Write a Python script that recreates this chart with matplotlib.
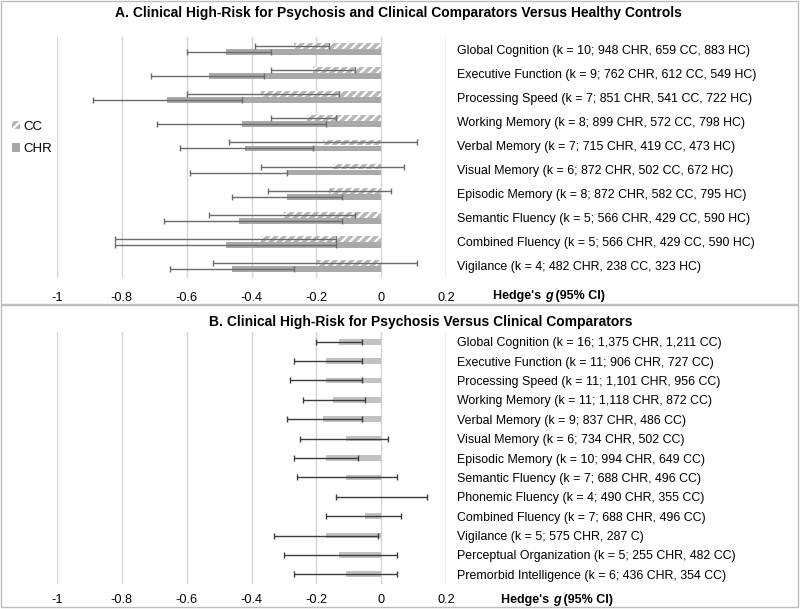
import numpy as np
import matplotlib
matplotlib.use("Agg")
from matplotlib import pyplot as plt
from matplotlib.patches import Rectangle, Patch
from matplotlib.ticker import FuncFormatter

plt.rcParams["font.family"] = ["Liberation Sans", "DejaVu Sans"]
plt.rcParams["axes.unicode_minus"] = False
plt.rcParams["hatch.linewidth"] = 1.6
plt.rcParams["hatch.color"] = "white"

# panel A: CHR and CC versus healthy controls
labels_a = [
    "Global Cognition (k = 10; 948 CHR, 659 CC, 883 HC)",
    "Executive Function (k = 9; 762 CHR, 612 CC, 549 HC)",
    "Processing Speed (k = 7; 851 CHR, 541 CC, 722 HC)",
    "Working Memory (k = 8; 899 CHR, 572 CC, 798 HC)",
    "Verbal Memory (k = 7; 715 CHR, 419 CC, 473 HC)",
    "Visual Memory (k = 6; 872 CHR, 502 CC, 672 HC)",
    "Episodic Memory (k = 8; 872 CHR, 582 CC, 795 HC)",
    "Semantic Fluency (k = 5; 566 CHR, 429 CC, 590 HC)",
    "Combined Fluency (k = 5; 566 CHR, 429 CC, 590 HC)",
    "Vigilance (k = 4; 482 CHR, 238 CC, 323 HC)",
]
cc_g = [-0.27, -0.21, -0.37, -0.23, -0.18, -0.15, -0.16, -0.30, -0.37, -0.20]
cc_lo = [-0.39, -0.34, -0.60, -0.34, -0.47, -0.37, -0.35, -0.53, -0.82, -0.52]
cc_hi = [-0.16, -0.08, -0.13, -0.14, 0.11, 0.07, 0.03, -0.08, -0.14, 0.11]
chr_g = [-0.48, -0.53, -0.66, -0.43, -0.42, -0.29, -0.29, -0.44, -0.48, -0.46]
chr_lo = [-0.60, -0.71, -0.89, -0.69, -0.62, -0.59, -0.46, -0.67, -0.82, -0.65]
chr_hi = [-0.34, -0.36, -0.43, -0.17, -0.21, -0.29, -0.12, -0.12, -0.14, -0.27]

# panel B: CHR versus clinical comparators
labels_b = [
    "Global Cognition (k = 16; 1,375 CHR, 1,211 CC)",
    "Executive Function (k = 11; 906 CHR, 727 CC)",
    "Processing Speed (k = 11; 1,101 CHR, 956 CC)",
    "Working Memory (k = 11; 1,118 CHR, 872 CC)",
    "Verbal Memory (k = 9; 837 CHR, 486 CC)",
    "Visual Memory (k = 6; 734 CHR, 502 CC)",
    "Episodic Memory (k = 10; 994 CHR, 649 CC)",
    "Semantic Fluency (k = 7; 688 CHR, 496 CC)",
    "Phonemic Fluency (k = 4; 490 CHR, 355 CC)",
    "Combined Fluency (k = 7; 688 CHR, 496 CC)",
    "Vigilance (k = 5; 575 CHR, 287 C)",
    "Perceptual Organization (k = 5; 255 CHR, 482 CC)",
    "Premorbid Intelligence (k = 6; 436 CHR, 354 CC)",
]
b_g = [-0.13, -0.17, -0.17, -0.15, -0.18, -0.11, -0.17, -0.11, 0.0, -0.05, -0.17, -0.13, -0.11]
b_lo = [-0.20, -0.27, -0.28, -0.24, -0.29, -0.25, -0.27, -0.26, -0.14, -0.17, -0.33, -0.30, -0.27]
b_hi = [-0.06, -0.06, -0.06, -0.05, -0.06, 0.02, -0.07, 0.05, 0.14, 0.06, -0.01, 0.05, 0.05]

ticks = [-1, -0.8, -0.6, -0.4, -0.2, 0, 0.2]

W, H = 800, 609
fig = plt.figure(figsize=(W / 100, H / 100), dpi=100)


def px_axes(x0, y0, x1, y1):
    # axes from pixel box (top-left origin)
    return fig.add_axes([x0 / W, 1 - y1 / H, (x1 - x0) / W, (y1 - y0) / H])


def style_axes(ax, labels, xpad):
    ax.set_xlim(-1, 0.2)
    ax.set_xticks(ticks)
    ax.xaxis.set_major_formatter(FuncFormatter(lambda v, p: "%g" % round(v, 1)))
    ax.grid(axis="x", color="#d4d4d4", linewidth=1)
    ax.set_axisbelow(True)
    for s in ax.spines.values():
        s.set_visible(False)
    ax.axvline(0.2, color="#d4d4d4", lw=1, zorder=0)
    ax.set_yticks(np.arange(len(labels)))
    ax.set_yticklabels(labels)
    ax.yaxis.tick_right()
    ax.set_ylim(len(labels) - 0.5, -0.5)
    ax.tick_params(axis="y", length=0, pad=8, labelsize=8.9, labelcolor="#000000")
    ax.tick_params(axis="x", length=0, pad=xpad, labelsize=9.2)


def err_pairs(g, lo, hi):
    g = np.array(g)
    return [g - np.array(lo), np.array(hi) - g]


# panel A
axA = px_axes(57, 37, 446, 278)
y = np.arange(len(labels_a))
h = 0.24
axA.barh(y - 0.125, cc_g, height=h, color="#b8b8b8", hatch="////", lw=0, label="CC")
axA.barh(y + 0.125, chr_g, height=h, color="#a9a9a9", lw=0, label="CHR")
axA.errorbar(cc_g, y - 0.125, xerr=err_pairs(cc_g, cc_lo, cc_hi), fmt="none",
             ecolor="#6a6a6a", elinewidth=1, capsize=2.2)
axA.errorbar(chr_g, y + 0.125, xerr=err_pairs(chr_g, chr_lo, chr_hi), fmt="none",
             ecolor="#6a6a6a", elinewidth=1, capsize=2.2)
style_axes(axA, labels_a, 10)

# panel B
axB = px_axes(57, 332, 446, 584)
yb = np.arange(len(labels_b))
axB.barh(yb, b_g, height=0.29, color="#c2c2c2", lw=0)
axB.errorbar(b_g, yb, xerr=err_pairs(b_g, b_lo, b_hi), fmt="none",
             ecolor="#3c3c3c", elinewidth=1, capsize=2.2)
style_axes(axB, labels_b, 7.5)

# legend for panel A
handles = [Patch(facecolor="#b8b8b8", hatch="////", lw=0),
           Patch(facecolor="#a9a9a9", lw=0)]
fig.legend(handles, ["CC", "CHR"], loc="center left",
           bbox_to_anchor=(0 / W, 1 - 138 / H), frameon=False, fontsize=9.5,
           handlelength=0.6, handleheight=0.6, handletextpad=0.3, labelspacing=0.8)

# titles
fig.text(398 / W, 1 - 13 / H,
         "A. Clinical High-Risk for Psychosis and Clinical Comparators Versus Healthy Controls",
         ha="center", va="center", fontsize=10, fontweight="bold")
fig.text(421 / W, 1 - 322 / H,
         "B. Clinical High-Risk for Psychosis Versus Clinical Comparators",
         ha="center", va="center", fontsize=10, fontweight="bold")


# x axis caption with italic g
def hedges(x, ypix):
    t1 = fig.text(x / W, 1 - ypix / H, "Hedge's ", ha="left", va="center",
                  fontsize=9, fontweight="bold")
    a2 = plt.annotate("g", xy=(1, 0), xycoords=t1, va="bottom", ha="left",
                      fontsize=9, fontweight="bold", fontstyle="italic")
    plt.annotate(" (95% CI)", xy=(1, 0), xycoords=a2, va="bottom", ha="left",
                 fontsize=9, fontweight="bold")


hedges(493, 296)
hedges(501, 600)

# panel frames
for (x0, y0, x1, y1) in [(1, 1, 798, 304), (1, 305, 798, 607)]:
    fig.patches.append(Rectangle((x0 / W, 1 - y1 / H), (x1 - x0) / W, (y1 - y0) / H,
                                 transform=fig.transFigure, fill=False,
                                 edgecolor="#bdbdbd", lw=1))

fig.savefig("out.png", dpi=100)
